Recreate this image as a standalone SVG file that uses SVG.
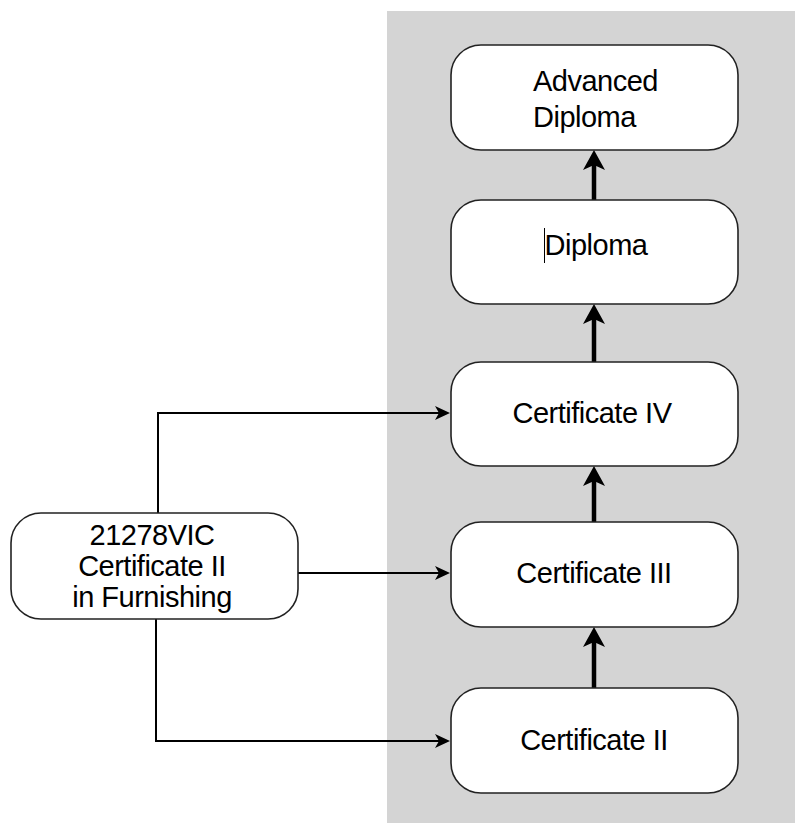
<svg xmlns="http://www.w3.org/2000/svg" width="795" height="825" viewBox="0 0 795 825">
<style>
.node rect{fill:#fff;stroke:#222;stroke-width:1.6}
.node text{font-family:"Liberation Sans",Arial,sans-serif;font-size:29px;letter-spacing:-0.5px;fill:#000;text-anchor:middle}
.thin{fill:none;stroke:#000;stroke-width:2}
.thick{fill:none;stroke:#000;stroke-width:4.5}
</style>
<defs>
<marker id="ah" markerUnits="userSpaceOnUse" markerWidth="16" markerHeight="14" refX="10" refY="7" orient="auto" overflow="visible">
<path d="M15,7 L0,0 L4,7 L0,14 Z" fill="#000"/>
</marker>
<marker id="ahT" markerUnits="userSpaceOnUse" markerWidth="21" markerHeight="22" refX="12" refY="11" orient="auto" overflow="visible">
<path d="M20,11 L0,0 L5,11 L0,22 Z" fill="#000"/>
</marker>
</defs>
<rect x="387" y="11" width="408" height="812" fill="#d4d4d4"/>
<g id="connectors">
<path class="thin" d="M158,513 V413 H445" marker-end="url(#ah)"/>
<path class="thin" d="M298,573 H445" marker-end="url(#ah)"/>
<path class="thin" d="M156,619 V741 H445" marker-end="url(#ah)"/>
<path class="thick" d="M594,688 V635" marker-end="url(#ahT)"/>
<path class="thick" d="M594,522 V474" marker-end="url(#ahT)"/>
<path class="thick" d="M594,362 V312" marker-end="url(#ahT)"/>
<path class="thick" d="M594,200 V158" marker-end="url(#ahT)"/>
</g>
<g id="adv" class="node">
<rect x="451" y="45" width="287" height="105" rx="30" ry="30"/>
<text x="533" y="91" style="text-anchor:start">Advanced</text>
<text x="533" y="127" style="text-anchor:start">Diploma</text>
</g>
<g id="diploma" class="node">
<rect x="451" y="200" width="287" height="104" rx="30" ry="30"/>
<text x="596" y="255">Diploma</text>
<line x1="544.5" y1="228" x2="544.5" y2="263" stroke="#000" stroke-width="1"/>
</g>
<g id="cert4" class="node">
<rect x="451" y="362" width="287" height="104" rx="30" ry="30"/>
<text x="592" y="423">Certificate IV</text>
</g>
<g id="cert3" class="node">
<rect x="451" y="522" width="287" height="105" rx="30" ry="30"/>
<text x="594" y="583">Certificate III</text>
</g>
<g id="cert2" class="node">
<rect x="451" y="688" width="287" height="105" rx="30" ry="30"/>
<text x="594" y="750">Certificate II</text>
</g>
<g id="furnishing" class="node">
<rect x="11" y="513" width="287" height="106" rx="30" ry="30"/>
<text x="152" y="545">21278VIC</text>
<text x="152" y="576">Certificate II</text>
<text x="152" y="607">in Furnishing</text>
</g>
</svg>
